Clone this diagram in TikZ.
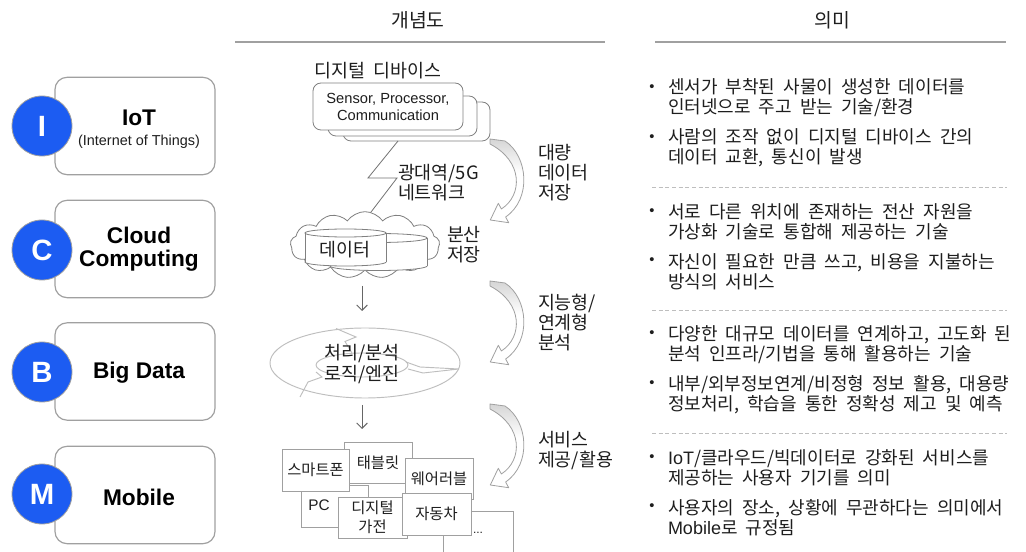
\documentclass[tikz,border=0pt]{standalone}
\usepackage{fontspec}
\setmainfont{Liberation Sans}
\newfontfamily\kr[WordSpace=2]{Noto Sans CJK KR}
\usetikzlibrary{shapes.symbols,arrows.meta}
\definecolor{cblue}{RGB}{28,92,242}
\definecolor{lgray}{RGB}{160,160,160}
\definecolor{rgray}{RGB}{190,190,190}
\definecolor{tcol}{RGB}{30,30,30}
\pgfdeclareverticalshading{arrshade}{100bp}{color(0bp)=(white); color(55bp)=(white); color(82bp)=(black!22); color(100bp)=(black!28)}
\newcommand\mycyl[5]{%
 \fill[white] (#1-#4,#2) rectangle (#1+#4,#3);
 \filldraw[cylline] (#1,#3) ellipse [x radius=#4, y radius=#5];
 \fill[white] (#1-#4,#2) rectangle (#1+#4,#3);
 \draw[cylline] (#1-#4,#2) -- (#1-#4,#3) (#1+#4,#2) -- (#1+#4,#3);
 \filldraw[cylline] (#1,#2) ellipse [x radius=#4, y radius=#5];}
\begin{document}
\begin{tikzpicture}[x=0.75pt,y=-0.75pt,
 every node/.style={inner sep=0pt, outer sep=0pt},
 leftbox/.style={draw=lgray, line width=0.9pt, rounded corners=9pt, fill=white, minimum width=120pt, minimum height=73pt},
 letter/.style={circle, fill=cblue, draw=lgray, line width=0.6pt, minimum size=45pt, text=white, font=\bfseries\fontsize{22}{22}\selectfont},
 ttl/.style={font=\bfseries\fontsize{17}{17.3}\selectfont, text=black, align=center},
 sub/.style={font=\fontsize{10.8}{13}\selectfont, text=tcol},
 hdr/.style={font=\kr\fontsize{14.5}{16}\selectfont, text=tcol},
 hline/.style={draw=lgray, line width=1.5pt},
 lab/.style={font=\kr\fontsize{13.8}{15}\selectfont, text=tcol, align=left, anchor=west},
 body/.style={font=\kr\fontsize{13.5}{15}\selectfont, text=tcol, align=left, anchor=west},
 bul/.style={font=\fontsize{11}{12}\selectfont, text=tcol},
 dline/.style={draw=rgray, dash pattern=on 3pt off 2pt, line width=0.6pt},
 card/.style={draw=gray, line width=0.6pt, fill=white, rounded corners=6pt},
 cardtxt/.style={font=\fontsize{11}{12.75}\selectfont, text=tcol, align=center},
 dev/.style={draw=lgray, line width=0.7pt, fill=white, font=\kr\fontsize{11.5}{14.25}\selectfont, text=tcol, align=center},
 downarr/.style={draw=gray!80!black, line width=0.7pt, -{Straight Barb[length=4pt,width=8pt]}},
 bolt/.style={draw=gray!90!black, line width=0.6pt},
 ring/.style={draw=rgray, line width=0.7pt},
 cylline/.style={draw=gray, fill=white, line width=0.6pt},
 curvarr/.pic={\shade[shading=arrshade, draw=lgray, line width=0.6pt, line join=round] (0,0) -- (15,2) .. controls (38,17) and (42,60) .. (15.6,78) -- (18.7,83.7) -- (0.3,81) -- (8.3,64.3) -- (11.4,70) .. controls (33,56) and (33,22) .. (0,5) -- cycle;}
]
\useasboundingbox (0,0) rectangle (1026,552);
\fill[white] (0,0) rectangle (1026,552);

% headers
\node[hdr] (h1) at (418,20) {개념도};
\draw[hline] (235,42) -- (605,42);
\node[hdr] (h2) at (832,20) {의미};
\draw[hline] (655,42) -- (1006,42);

% left column
\node[leftbox] (b1) at (135,126) {};
\node[letter] (l1) at (42,126) {I};
\node[ttl] (t1) at (139,118) {IoT};
\node[sub] (s1) at (139,142) {(Internet of Things)};
\node[leftbox] (b2) at (135,249) {};
\node[letter] (l2) at (42,250) {C};
\node[ttl] (t2) at (139,249) {Cloud\\Computing};
\node[leftbox] (b3) at (135,371.5) {};
\node[letter] (l3) at (42,372) {B};
\node[ttl] (t3) at (139,373) {Big Data};
\node[leftbox] (b4) at (135,495) {};
\node[letter] (l4) at (42,494) {M};
\node[ttl] (t4) at (139,497) {Mobile};

% devices on top
\node[lab, anchor=center] (dd) at (378,71) {디지털 디바이스};
\node[card, minimum width=110.25pt, minimum height=29.25pt] (c3) at (416.5,121.5) {};
\node[card, minimum width=111.75pt, minimum height=30pt] (c2) at (402.5,116) {};
\node[card, cardtxt, minimum width=112.5pt, minimum height=35.25pt] (c1) at (388,106.5) {Sensor, Processor,\\Communication};

% network bolt
\coordinate (bA) at (398,141);
\coordinate (bB) at (368,178);
\coordinate (bC) at (397,178);
\coordinate (bD) at (368,216);
\draw[bolt] (bA) -- (bB) -- (bC) -- (bD);
\node[lab] (net) at (398,182.5) {광대역/5G\\네트워크};

% curved arrows and labels
\pic at (490,139) {curvarr};
\node[lab] (L1) at (538,173) {대량\\데이터\\저장};
\pic at (490,281) {curvarr};
\node[lab] (L3) at (538,323) {지능형/\\연계형\\분석};
\pic at (490,404) {curvarr};
\node[lab] (L4) at (538,451) {서비스\\제공/활용};

% cloud
\node[cloud, cloud puffs=13, cloud puff arc=110, aspect=2.3, draw=gray, fill=white, line width=0.6pt, minimum width=112pt, minimum height=50pt] (cloud) at (365,245) {};
\mycyl{378.5}{238}{266}{48.5}{4.5}
\mycyl{345.5}{233}{262}{40.5}{4}
\node[lab, anchor=center] (data) at (345,250) {데이터};
\node[lab] (L2) at (447,245) {분산\\저장};

\coordinate (d1s) at (362,286);
\coordinate (d1e) at (362,311);
\draw[downarr] (d1s) -- (d1e);

% processing ring
\draw[ring] (365,363) ellipse [x radius=95, y radius=35];
\draw[ring] (362,365) ellipse [x radius=46, y radius=12];
\draw[ring] (336,328.5) -- (356,337) -- (345,341.5) -- (352,353);
\draw[ring] (406,362) -- (420,367) -- (459,369) -- (423,373) -- (408,369);
\draw[ring] (300,397) -- (308,382) -- (322,377) -- (316,372);
\node[lab, anchor=center, align=center, font=\kr\fontsize{13.8}{15.75}\selectfont] (proc) at (362,364.5) {처리/분석\\로직/엔진};

\coordinate (d2s) at (362,405);
\coordinate (d2e) at (362,429);
\draw[downarr] (d2s) -- (d2e);

% device boxes
\begin{scope}
\clip (0,0) rectangle (1026,552);
\node[dev, minimum width=52.5pt, minimum height=37.5pt] (more) at (478,536) {};
\end{scope}
\node[font=\fontsize{9}{10}\selectfont, text=tcol] (dots) at (478,533) {...};
\node[dev, minimum width=51pt, minimum height=30.75pt] (tab) at (378,462.5) {태블릿};
\node[dev, minimum width=50.25pt, minimum height=31.5pt] (pc) at (334.5,506) {};
\node[font=\fontsize{11.5}{13}\selectfont, text=tcol] (pct) at (319,505) {PC};
\node[dev, minimum width=50.25pt, minimum height=31.5pt] (phone) at (315.5,470) {스마트폰};
\node[dev, minimum width=51pt, minimum height=30.75pt] (wear) at (439,478.5) {웨어러블};
\node[dev, minimum width=51.75pt, minimum height=30.75pt] (dig) at (372.5,517.5) {디지털\\가전};
\node[dev, minimum width=51.75pt, minimum height=31.5pt] (car) at (436.5,514) {자동차};

% right column
\node[bul] (p1) at (652,88) {•};
\node[body] (m1) at (668,98) {센서가 부착된 사물이 생성한 데이터를\\인터넷으로 주고 받는 기술/환경};
\node[bul] (p2) at (652,138) {•};
\node[body] (m2) at (668,148) {사람의 조작 없이 디지털 디바이스 간의\\데이터 교환, 통신이 발생};
\draw[dline] (652,187) -- (1007,187);
\node[bul] (p3) at (652,212) {•};
\node[body] (m3) at (668,222) {서로 다른 위치에 존재하는 전산 자원을\\가상화 기술로 통합해 제공하는 기술};
\node[bul] (p4) at (652,261) {•};
\node[body] (m4) at (668,271.5) {자신이 필요한 만큼 쓰고, 비용을 지불하는\\방식의 서비스};
\draw[dline] (652,310) -- (1007,310);
\node[bul] (p5) at (652,334) {•};
\node[body] (m5) at (668,344.5) {다양한 대규모 데이터를 연계하고, 고도화 된\\분석 인프라/기법을 통해 활용하는 기술};
\node[bul] (p6) at (652,384) {•};
\node[body] (m6) at (668,394.5) {내부/외부정보연계/비정형 정보 활용, 대용량\\정보처리, 학습을 통한 정확성 제고 및 예측};
\draw[dline] (652,433) -- (1007,433);
\node[bul] (p7) at (652,458) {•};
\node[body] (m7) at (668,468) {{\normalfont IoT}/클라우드/빅데이터로 강화된 서비스를\\제공하는 사용자 기기를 의미};
\node[bul] (p8) at (652,507) {•};
\node[body] (m8) at (668,517.5) {사용자의 장소, 상황에 무관하다는 의미에서\\{\normalfont Mobile}로 규정됨};
\end{tikzpicture}
\end{document}
